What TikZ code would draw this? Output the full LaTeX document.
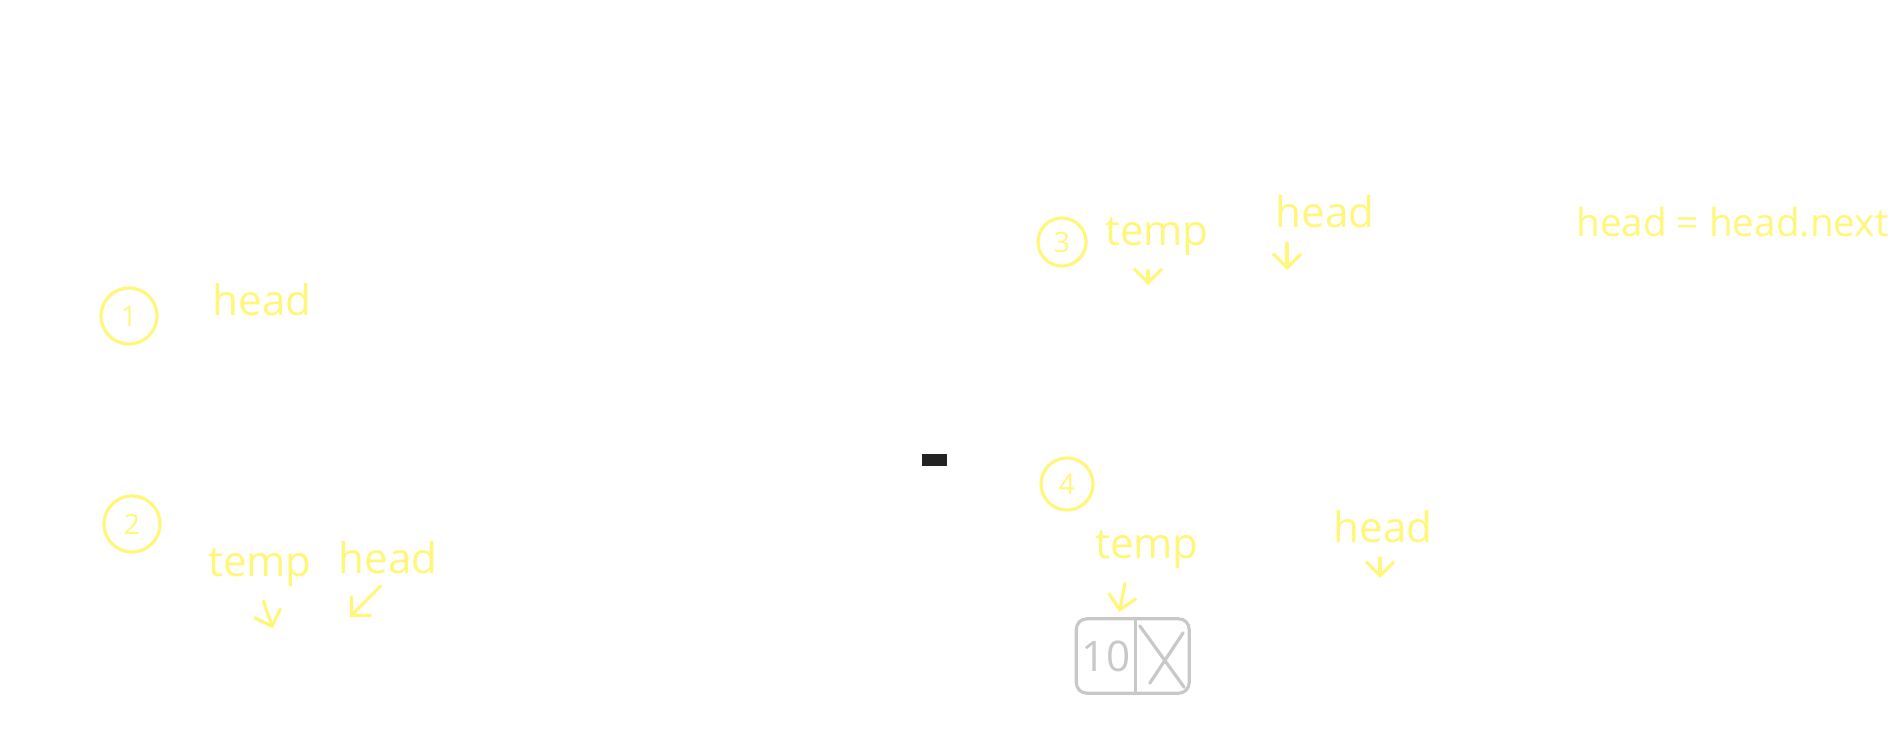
\documentclass[tikz,border=0pt]{standalone}
\usepackage{fontspec}
\setmainfont{Open Sans}
\usepackage{tikz}
\usetikzlibrary{arrows.meta, positioning, calc, fit}
\definecolor{chalkyellow}{RGB}{255,246,122}
\definecolor{cellgrey}{RGB}{200,200,200}
\definecolor{inkblack}{RGB}{34,34,34}

\begin{document}
\begin{tikzpicture}[
  x=0.01cm, y=-0.01cm,
  node distance=0.5cm,
  every node/.style={font=\fontsize{12}{14}\selectfont, text=chalkyellow, inner sep=1pt},
  stepno/.style={draw=chalkyellow, circle, line width=0.9pt, minimum size=0.56cm, font=\footnotesize},
  pointer/.style={draw=chalkyellow, line width=0.9pt, line cap=round, shorten <=3pt, shorten >=2pt,
    -{Straight Barb[length=4pt, width=8pt]}},
  cell/.style={text=cellgrey, minimum height=0.73cm},
  cellline/.style={draw=cellgrey, line width=0.9pt, line cap=round}
]
  \useasboundingbox (0,0) rectangle (1895,736);

  % step 1
  \node[stepno] (s1) at (129,316) {1};
  \node (head1) at (262,300) {head};

  % step 2
  \node[stepno] (s2) at (132,524) {2};
  \node (temp2) at (260,568) {temp};
  \node (head2) at (388,558) {head};
  \coordinate (t2end) at (275,635);
  \coordinate (h2end) at (345,622);
  \draw[pointer] (temp2.south) -- (t2end);
  \draw[pointer] (head2.south) -- (h2end);

  % step 3
  \node[stepno, minimum size=0.48cm] (s3) at (1062,242) {3};
  \node (temp3) at (1157,237) {temp};
  \node (head3) at (1325,212) {head};
  \node[anchor=west, font=\fontsize{11}{13}\selectfont] (move) at (1572,222) {head = head.next};
  \coordinate (t3end) at (1148,292);
  \coordinate (h3end) at (1287,277);
  \draw[pointer] (t3end |- temp3.south) -- (t3end);
  \draw[pointer] (h3end |- head3.south) -- (h3end);

  \node[fill=inkblack, minimum width=0.25cm, minimum height=0.12cm, inner sep=0pt] (bar) at (934,460) {};

  % step 4
  \node[stepno, minimum size=0.52cm] (s4) at (1067,484) {4};
  \node (temp4) at (1147,550) {temp};
  \node (head4) at (1383,527) {head};
  \node[cell, minimum width=0.58cm] (val) at (1106,656) {10};
  \node[cell, minimum width=0.52cm, right=0pt of val] (nxt) {};
  \node[cellline, fit=(val)(nxt), inner sep=0pt, rounded corners=3pt] (box) {};
  \draw[cellline] (val.north east) -- (val.south east);
  \draw[cellline]
    ($(nxt.north west)+(4,7)$) -- ($(nxt.south east)+(-5,-6)$)
    ($(nxt.north east)+(-6,14)$) -- ($(nxt.south west)+(14,-10)$);
  \draw[pointer] ([xshift=-0.2cm]temp4.south) -- ([xshift=0.12cm]val.north);
  \coordinate (h4end) at (1380,585);
  \draw[pointer] (h4end |- head4.south) -- (h4end);
\end{tikzpicture}
\end{document}
